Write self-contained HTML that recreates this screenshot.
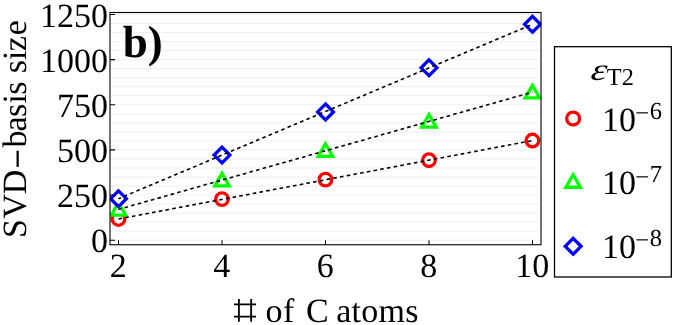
<!DOCTYPE html>
<html><head><meta charset="utf-8"><title>chart</title><style>text{filter:grayscale(1)}html,body{margin:0;padding:0;background:#fff}body{width:675px;height:325px;overflow:hidden}</style></head><body>
<svg width="675" height="325" viewBox="0 0 675 325" style="display:block;text-rendering:geometricPrecision;font-family:'Liberation Serif',serif">
<rect width="675" height="325" fill="#fff"/>
<path d="M110.0 240.20H539.2 M110.0 231.17H539.2 M110.0 222.14H539.2 M110.0 213.12H539.2 M110.0 204.09H539.2 M110.0 195.06H539.2 M110.0 186.03H539.2 M110.0 177.00H539.2 M110.0 167.98H539.2 M110.0 158.95H539.2 M110.0 149.92H539.2 M110.0 140.89H539.2 M110.0 131.86H539.2 M110.0 122.84H539.2 M110.0 113.81H539.2 M110.0 104.78H539.2 M110.0 95.75H539.2 M110.0 86.72H539.2 M110.0 77.70H539.2 M110.0 68.67H539.2 M110.0 59.64H539.2 M110.0 50.61H539.2 M110.0 41.58H539.2 M110.0 32.56H539.2 M110.0 23.53H539.2 M110.0 14.50H539.2" stroke="#eeeeee" stroke-width="1" fill="none"/>
<defs><clipPath id="c"><rect x="110" y="12.5" width="431.5" height="232.25"/></clipPath></defs>
<g clip-path="url(#c)">
<circle cx="118.50" cy="219.00" r="6.3" fill="#fff" stroke="#f00" stroke-width="3.3"/>
<circle cx="222.00" cy="199.10" r="6.3" fill="#fff" stroke="#f00" stroke-width="3.3"/>
<circle cx="325.50" cy="179.60" r="6.3" fill="#fff" stroke="#f00" stroke-width="3.3"/>
<circle cx="429.00" cy="160.20" r="6.3" fill="#fff" stroke="#f00" stroke-width="3.3"/>
<circle cx="532.50" cy="140.55" r="6.3" fill="#fff" stroke="#f00" stroke-width="3.3"/>
<path d="M118.50 202.60L125.75 215.15L111.25 215.15Z" fill="#fff" stroke="#0f0" stroke-width="3.3" stroke-linejoin="miter"/>
<path d="M222.00 173.35L229.25 185.90L214.75 185.90Z" fill="#fff" stroke="#0f0" stroke-width="3.3" stroke-linejoin="miter"/>
<path d="M325.50 143.90L332.75 156.45L318.25 156.45Z" fill="#fff" stroke="#0f0" stroke-width="3.3" stroke-linejoin="miter"/>
<path d="M429.00 114.50L436.25 127.05L421.75 127.05Z" fill="#fff" stroke="#0f0" stroke-width="3.3" stroke-linejoin="miter"/>
<path d="M532.50 85.30L539.75 97.85L525.25 97.85Z" fill="#fff" stroke="#0f0" stroke-width="3.3" stroke-linejoin="miter"/>
<path d="M118.50 190.80L126.40 198.70L118.50 206.60L110.60 198.70Z" fill="#fff" stroke="#00f" stroke-width="3.3" stroke-linejoin="miter"/>
<path d="M222.00 147.20L229.90 155.10L222.00 163.00L214.10 155.10Z" fill="#fff" stroke="#00f" stroke-width="3.3" stroke-linejoin="miter"/>
<path d="M325.50 104.00L333.40 111.90L325.50 119.80L317.60 111.90Z" fill="#fff" stroke="#00f" stroke-width="3.3" stroke-linejoin="miter"/>
<path d="M429.00 59.90L436.90 67.80L429.00 75.70L421.10 67.80Z" fill="#fff" stroke="#00f" stroke-width="3.3" stroke-linejoin="miter"/>
<path d="M532.50 16.40L540.40 24.30L532.50 32.20L524.60 24.30Z" fill="#fff" stroke="#00f" stroke-width="3.3" stroke-linejoin="miter"/>
<path d="M118.50 219.00L532.50 140.55" stroke="#000" stroke-width="1.6" stroke-dasharray="3.6 3.23" stroke-dashoffset="0.0" fill="none"/>
<path d="M118.50 209.40L532.50 92.10" stroke="#000" stroke-width="1.6" stroke-dasharray="3.6 3.23" stroke-dashoffset="0.5" fill="none"/>
<path d="M118.50 198.70L532.50 24.30" stroke="#000" stroke-width="1.6" stroke-dasharray="3.6 3.23" stroke-dashoffset="1.0" fill="none"/>
</g>
<path d="M110.0 240.20h5 M110.0 195.06h5 M110.0 149.92h5 M110.0 104.78h5 M110.0 59.64h5 M110.0 14.50h5" stroke="#000" stroke-width="1.1" fill="none"/>
<path d="M118.50 244.75v-4.5 M222.00 244.75v-4.5 M325.50 244.75v-4.5 M429.00 244.75v-4.5 M532.50 244.75v-4.5" stroke="#000" stroke-width="1.05" fill="none"/>
<rect x="110.0" y="12.5" width="431.0" height="232.25" fill="none" stroke="#000" stroke-width="1.1"/>
<text x="108.0" y="252.20" font-size="34" text-anchor="end">0</text>
<text x="108.0" y="207.06" font-size="34" text-anchor="end">250</text>
<text x="108.0" y="161.92" font-size="34" text-anchor="end">500</text>
<text x="108.0" y="116.78" font-size="34" text-anchor="end">750</text>
<text x="108.0" y="71.64" font-size="34" text-anchor="end">1000</text>
<text x="108.0" y="26.50" font-size="34" text-anchor="end">1250</text>
<text x="118.20" y="277.2" font-size="34" text-anchor="middle">2</text>
<text x="221.70" y="277.2" font-size="34" text-anchor="middle">4</text>
<text x="325.20" y="277.2" font-size="34" text-anchor="middle">6</text>
<text x="428.70" y="277.2" font-size="34" text-anchor="middle">8</text>
<text x="532.20" y="277.2" font-size="34" text-anchor="middle">10</text>
<text x="122.7" y="56.9" font-size="45" font-weight="bold">b)</text>
<path d="M234 304.4H256M234 316.55H256M238.9 299.0V321.7M251.15 299.0V321.7" stroke="#000" stroke-width="1.8" fill="none"/>
<text x="265.6" y="321.7" font-size="34">o<tspan dx="0.5">f</tspan></text>
<text x="306.0" y="321.7" font-size="34">C</text>
<text x="336.2" y="321.7" font-size="34" textLength="82.2" lengthAdjust="spacing">atoms</text>
<text transform="translate(25.8 0) rotate(-90)" font-size="34" x="-237.94 -218.52 -194.34 -168.45 -147.50 -131.56 -117.10 -103.61 -94.80 -78.00 -73.25 -60.11 -51.23 -35.32" y="0 0 0 3.1 0 0 0 0 0 0 0 0 0 0">SVD<tspan style="stroke:#000;stroke-width:.45px">−</tspan>basis size</text>
<rect x="554.5" y="46.7" width="116.8" height="230.3" fill="#fff" stroke="#000" stroke-width="1.3"/>
<text transform="translate(590.1 79.5) scale(1.30 1) skewX(-6)" font-size="31" font-style="italic">ε</text>
<text x="606.8" y="85.3" font-size="24.3">T2</text>
<text x="602.0" y="131.0" font-size="34">10</text>
<text x="635.2" y="121.4" font-size="24.5">−<tspan dx="0.6" dy="-2.2">6</tspan></text>
<text x="602.0" y="194.2" font-size="34">10</text>
<text x="635.2" y="184.6" font-size="24.5">−<tspan dx="0.6" dy="-2.2">7</tspan></text>
<text x="602.0" y="258.0" font-size="34">10</text>
<text x="635.2" y="248.4" font-size="24.5">−<tspan dx="0.6" dy="-2.2">8</tspan></text>
<circle cx="573.15" cy="118.50" r="6.45" fill="#fff" stroke="#f00" stroke-width="3.3"/>
<path d="M573.15 174.70L580.40 187.25L565.90 187.25Z" fill="#fff" stroke="#0f0" stroke-width="3.3" stroke-linejoin="miter"/>
<path d="M573.15 238.45L581.05 246.35L573.15 254.25L565.25 246.35Z" fill="#fff" stroke="#00f" stroke-width="3.3" stroke-linejoin="miter"/>
</svg>
</body></html>
